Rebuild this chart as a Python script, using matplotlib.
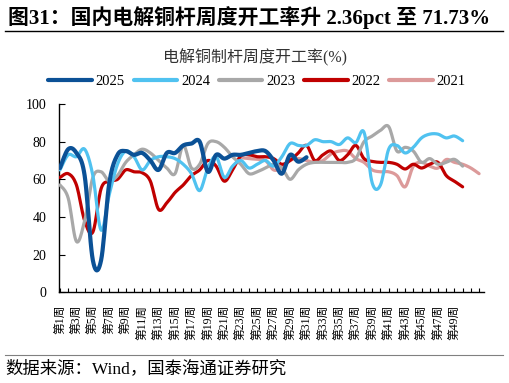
import numpy as np
import matplotlib
matplotlib.use('Agg')
import matplotlib.pyplot as plt
from matplotlib.lines import Line2D

plt.rcParams['font.family'] = ['Liberation Serif', 'Noto Sans CJK SC']
plt.rcParams['axes.unicode_minus'] = False

# weekly operating rate (%), week index starts at 1
y2025 = [66, 76, 74, 62, 17, 17, 58, 73, 75, 73, 74, 70, 65, 74, 74, 78, 79, 80, 64, 73,
         71, 73, 73, 74, 75, 75, 70, 63, 73, 69.37, 71.73]
y2024 = [65, 73, 72, 76, 62, 33, 52, 68, 75, 72, 65, 70, 72, 72, 71, 68, 63, 54, 66, 72,
         61, 67, 70, 66, 68, 70, 67, 72, 79, 78, 78, 81, 80, 80, 78.5, 82, 79.5, 85, 58, 57,
         76, 78, 74, 77, 82, 84, 84, 82, 83, 80.5]
y2023 = [57, 50, 27, 38, 61, 64, 59, 62, 69, 73, 76, 74, 70, 66, 63, 78, 66, 68, 79, 80,
         77, 72, 68, 63, 64, 66, 68, 66, 60, 65, 68, 69, 69, 69, 69, 69, 71, 80, 83, 86,
         88, 75, 77, 75, 69, 71, 68, 69, 70.6, 67]
y2022 = [61, 63, 57, 38, 32, 55, 59, 60, 65, 64, 63.5, 59, 44, 47.5, 53, 57, 62, 65, 70, 67,
         59, 65, 72.4, 73, 72, 72, 71, 68, 70, 74, 78, 70, 73, 75, 70, 73, 78, 71, 69.5, 69,
         69, 68, 65.5, 68, 66, 68, 69, 62, 59, 56]
start2021 = 23
y2021 = [71.5, 71, 70.6, 70, 65, 66, 70, 71, 70, 69, 70, 73.5, 75, 75, 71, 69, 65, 64, 64, 62,
         56, 67, 69, 67, 66, 70.5, 69, 68, 66, 63]

series = [('2025', y2025, 1, '#0b5196', 3.0),
          ('2024', y2024, 1, '#50c2f0', 2.3),
          ('2023', y2023, 1, '#a8a8a8', 2.3),
          ('2022', y2022, 1, '#c00000', 2.3),
          ('2021', y2021, start2021, '#dc9a9a', 2.3)]


def smooth(x, y, n=12):
    # Excel style smoothed line (cardinal bezier through every point)
    p = np.column_stack([x, y]).astype(float)
    out = [p[0]]
    for i in range(len(p) - 1):
        p0 = p[i - 1] if i > 0 else p[i]
        p1, p2 = p[i], p[i + 1]
        p3 = p[i + 2] if i + 2 < len(p) else p[i + 1]
        c1 = p1 + (p2 - p0) / 6
        c2 = p2 - (p3 - p1) / 6
        t = np.linspace(0, 1, n)[1:, None]
        seg = (1 - t) ** 3 * p1 + 3 * (1 - t) ** 2 * t * c1 + 3 * (1 - t) * t ** 2 * c2 + t ** 3 * p2
        out.extend(seg)
    out = np.array(out)
    return out[:, 0], out[:, 1]


fig = plt.figure(figsize=(5.1, 3.83), dpi=100)
ax = fig.add_axes([59 / 510, 1 - 292.3 / 383, 425 / 510, 188.3 / 383])

handles = []
for name, vals, start, color, lw in series:
    x = np.arange(start, start + len(vals))
    sx, sy = smooth(x, vals)
    ax.plot(sx, sy, color=color, lw=lw, solid_capstyle='round', zorder=3)
    handles.append(Line2D([], [], color=color, lw=3.0, solid_capstyle='round', label=name))

# newer years drawn on top
for line, z in zip(ax.lines, [6, 5, 4, 3, 2]):
    line.set_zorder(z)

ax.set_ylim(0, 100)
ax.set_xlim(0.88, 52.6)
ax.set_yticks(range(0, 101, 20))
weeks = list(range(1, 53))
ax.set_xticks(weeks)
ax.set_xticklabels([f'第{w}周' if (w % 2 == 1 and w <= 49) else '' for w in weeks],
                   rotation=90, fontsize=8.5, va='top', ha='center')
ax.tick_params(axis='x', direction='in', length=3, width=0.8, pad=9)
ax.tick_params(axis='y', direction='in', length=4, width=0.8, labelsize=10, pad=9)
for s in ['top', 'right']:
    ax.spines[s].set_visible(False)
for s in ['left', 'bottom']:
    ax.spines[s].set_linewidth(1.0)

fig.text(8 / 510, 1 - 18 / 383, '图31：国内电解铜杆周度开工率升 2.36pct 至 71.73%',
         fontsize=15, fontweight='bold', ha='left', va='center')
fig.add_artist(Line2D([5 / 510, 503 / 510], [1 - 30.7 / 383] * 2, color='black', lw=1.0))
fig.text(255 / 510, 1 - 57.5 / 383, '电解铜制杆周度开工率(%)', fontsize=11.5,
         ha='center', va='center', color='#333333')
fig.legend(handles=handles, loc='center', bbox_to_anchor=(257 / 510, 1 - 81 / 383),
           ncol=5, frameon=False, fontsize=10.5, handlelength=3.0, handletextpad=0.25,
           columnspacing=0.6)
fig.add_artist(Line2D([5 / 510, 503 / 510], [1 - 355 / 383] * 2, color='#808080', lw=0.8))
fig.text(5 / 510, 1 - 369 / 383, '数据来源：Wind，国泰海通证券研究', fontsize=12.5,
         ha='left', va='center')

fig.savefig('out.png', dpi=100)
